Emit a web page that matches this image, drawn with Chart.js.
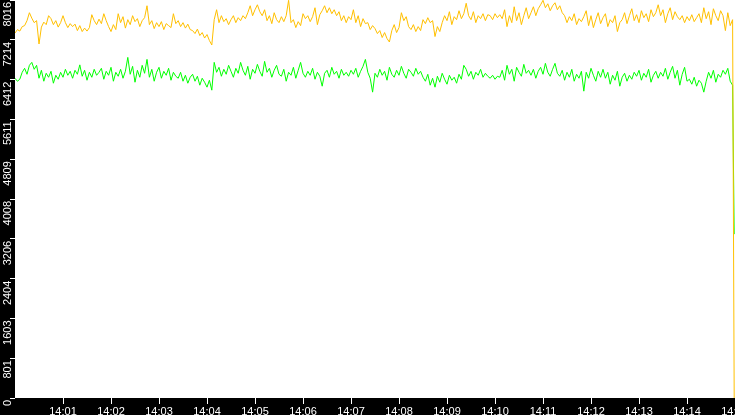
<!DOCTYPE html>
<html>
<head>
<meta charset="utf-8">
<script src="https://cdn.jsdelivr.net/npm/chart.js@4.4.1/dist/chart.umd.min.js"></script>
<style>
  html, body { margin: 0; padding: 0; background: #000; }
  #wrap { width: 735px; height: 415px; }
</style>
</head>
<body>
<div id="wrap"><canvas id="c" width="735" height="415"></canvas></div>
<script>
// Time axis: samples every 3 s starting at 14:00:00 (x in seconds after 14:00:00)
const sampleStepSec = 3;
const axisMaxSec = 900;
const dropTimeSec = 899;

const xTickLabels = ['14:01','14:02','14:03','14:04','14:05','14:06','14:07','14:08','14:09','14:10','14:11','14:12','14:13','14:14','14:15'];
const yTickLabels = [0, 801, 1603, 2404, 3206, 4008, 4809, 5611, 6412, 7214, 8016];

const yellowValues = [
7350,7420,7390,7480,7500, 7600,7760, 7650,7560,7600, 7130, 7470,7570,7520, 7700,
7640,7520,7600,7470,7560, 7700, 7560,7460,7540,7480, 7530,7400,7500,7380,7450,
7390,7460,7720, 7600,7520,7630,7540,7740,7600, 7480,7380,7520,7420,7740,
7560,7680,7450,7620,7520,7700,7580,7640,7480,7600,7660, 7900,
7520,7600,7440,7560,7480,7580,7420,7540,7500,7460, 7740,
7540,7600,7480,7560,7450,7530,7420, 7400,7340,7430,7300,7360,7250,7320,7200,
7110, 7620, 7820,7560,7700,7580,7640,7520, 7620,7700,7560,7660,7600,7700,7640,
7760,7900,7700,7820,7920,7780,7700,7820, 7600,7700,7540,7760,7620,7560,
7680,7580,7700, 8010, 7560,7620,7460,7580,7500,7740, 7640,7700,7580,7680,
7860,7520,7720, 7800,7900,7760,7860,7740,7820,7700, 7780,7600,7700,7560,7680,7620,
7820,7560,7700,7480,7640,7540, 7560,7420,7500, 7440,7340,7400,7260,7360,7240,7170,
7400,7520,7360,7460, 7760,7600,7680,7480, 7420,7520,7380,7480,7400,
7620,7540,7660,7560, 7600,7280,7480,7380,
7560,7700,7600,7780,7520,7680,7620,7800,7640,7740,7950,
7700,7620,7780,7560,7700,7640,7740,7600,7720, 7700,7620,7740,7660,7720,7640,
7820,7480,7700,7560,7880,7600,7760,7520,7700,7860,7640,
7760,7880,7700,7840,7920,8010,7860,7940,7800,7900, 7960,7820,7900,7760,
7700,7560,7680,7600,7740,7520,7640,7580,7680, 7800,7500,7700,7460,7620,7760,7540,7660,
7740,7480,7620,7560, 7700,7380,7560,
7620,7760,7540,7700,7840,7600,7720,7560,7800,7660,7740,7580,7820,7680,7760,7920,
7700,7820,7560,7740,7860,7620,7780,7680, 7620,7700,7560,7680,7600,7720,7580,7660,
7740,7560,7860,7640,7780,7520,7840,7700,7600,7800, 7700,7400,7760,7500,7620
];
const yellowDropValue = 0;

const greenValues = [
6440,6380,6420, 6560,6640,6520,6700,6760,6620,6700,
6440,6600,6380,6540,6460,6580,6340,6500,6420,
6560,6460,6620,6500,6580,6440,6600,6520, 6710,
6480,6600,6400,6560,6460,6620,6500,6560,
6640,6420,6580,6500,6660,6380,6560,6480,6620,6440,6580, 6860,
6520,6680,6360,6600,6460,6700,6540,6820,
6460,6620,6380,6560,6660,6440,6580,6500,6640,6400,6560,6480,
6440,6560,6380,6500,6340,6460,6520,6380,6480,6300,6440,6360,6260,
6400, 6200, 6760,
6560,6660,6480,6620,6520,6700,6580,6460,6640,6540,6760,6600,6500,6680,6420,6620,6540,6720,6580,6480,6780,6560,6640,6460,6600,6700,6520,
6480,6620,6380,6560,6500,6660,6440,6600,6760,6540,6460,
6580,6500,6640,6420,6560,6480,6280,6540,6600,6460,6660,6520,6580,6440,6620,6500,6560,6480,6600,
6520,6640,6460,6580,6680,6820,6560,6440, 6160,
6540,6460,6620,6500,6580,6400,6660,6520,6460,6600,6500,6680,6540,6440,6620,6560,6480,6640,6520,6580,
6460,6380,6520,6300,6440,6260,6480,6360,6540,6420,6320,6500,6400,6460,6340,6520,6420,
6700,
6620,6480,6580,6420,6560,6500,6620,6460,6540,6480, 6440,6500,6420,6480,6460,
6600,6400,6700,6520,6620,6380,6660,6560,6480,6720,6540,6600,
6500,6620,6440,6580,6660,6520,6740,6560,6480,6620,6740,6540,
6480,6600,6400,6560,6460,6620,6380,6520,6440,6580, 6180,
6560,6440,6640,6500,6380,6580,6460,6620,
6440,6560,6320,6500,6400,6580,6280,6460,6540,6380,6500,6420,6560,
6480,6600,6400,6540,6460,6620,6360,6500,6580,6440,6560,6480,6640,6420,
6560,6680,6440,6600,6300,6520,6660,6380,
6420,6320,6460,6280,6400,6340,6160,6380,
6560,6440,6600,6360,6520,6460,6600,6520, 6640, 6380,6300
];
const greenDropValue = 3300;

function toPoints(values, dropValue) {
  const pts = values.map((v, i) => ({ x: i * sampleStepSec, y: v }));
  pts.push({ x: dropTimeSec, y: dropValue });
  return pts;
}

const chartAreaBg = {
  id: 'chartAreaBg',
  beforeDraw(chart) {
    const { ctx, chartArea } = chart;
    ctx.save();
    ctx.fillStyle = '#ffffff';
    ctx.fillRect(chartArea.left, chartArea.top, chartArea.right - chartArea.left, chartArea.bottom - chartArea.top);
    ctx.restore();
  }
};

new Chart(document.getElementById('c'), {
  type: 'line',
  data: {
    datasets: [
      { label: 'A', data: toPoints(yellowValues, yellowDropValue), borderColor: '#ffc000', borderWidth: 1, pointRadius: 0, tension: 0, fill: false },
      { label: 'B', data: toPoints(greenValues, greenDropValue), borderColor: '#00ff00', borderWidth: 1, pointRadius: 0, tension: 0, fill: false }
    ]
  },
  options: {
    responsive: false,
    animation: false,
    devicePixelRatio: 1,
    layout: { padding: 0 },
    plugins: { legend: { display: false }, tooltip: { enabled: false } },
    scales: {
      x: {
        type: 'linear',
        min: 0,
        max: axisMaxSec,
        afterBuildTicks(scale) {
          scale.ticks = xTickLabels.map((_, i) => ({ value: (i + 1) * 60 }));
        },
        afterFit(scale) {
          scale.height = 17;
          scale.paddingLeft = 0;
          scale.paddingRight = 0;
        },
        border: { display: false },
        grid: { drawOnChartArea: false, drawTicks: true, tickLength: 6, tickColor: '#ffffff', tickWidth: 1 },
        ticks: {
          autoSkip: false,
          maxRotation: 0,
          minRotation: 0,
          padding: 1,
          color: '#ffffff',
          font: { family: 'Liberation Sans', size: 11 },
          callback(value) {
            const idx = Math.round(value / 60) - 1;
            return xTickLabels[idx];
          }
        }
      },
      y: {
        type: 'linear',
        min: 0,
        max: 8016,
        afterBuildTicks(scale) {
          scale.ticks = yTickLabels.map(v => ({ value: v }));
        },
        afterFit(scale) {
          scale.width = 15;
          scale.paddingTop = 0;
          scale.paddingBottom = 0;
        },
        border: { display: false },
        grid: { drawOnChartArea: false, drawTicks: true, tickLength: 5, tickColor: '#ffffff', tickWidth: 1 },
        ticks: {
          minRotation: 90,
          maxRotation: 90,
          padding: 2,
          labelOffset: 2,
          color: '#ffffff',
          font: { family: 'Liberation Sans', size: 11 },
          callback(value) { return String(value); }
        }
      }
    }
  },
  plugins: [chartAreaBg]
});
</script>
</body>
</html>
